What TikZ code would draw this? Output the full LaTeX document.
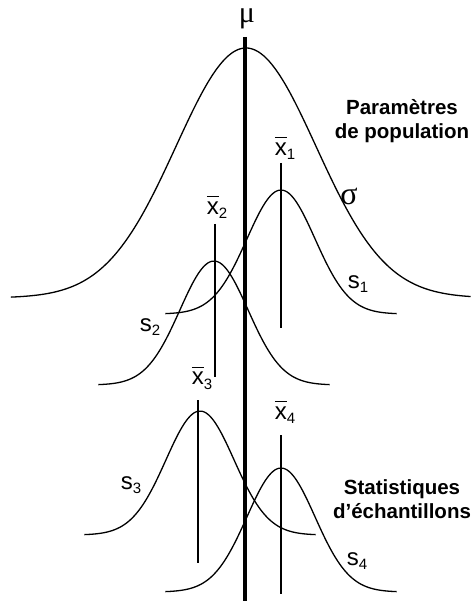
\documentclass[tikz,border=0pt]{standalone}
\usepackage{fontspec}
\setmainfont{Liberation Sans}
\newfontfamily\greekfont{Liberation Serif}
\usepackage{tikz}
\tikzset{bell/.style={line width=1.3pt},
  meanline/.style={line width=1.3pt},
  muline/.style={line width=3.6pt},
  lbl/.style={inner sep=0pt,font=\fontsize{24}{26}\selectfont},
  heading/.style={inner sep=0pt,align=center,font=\fontsize{20.5}{23.5}\selectfont\bfseries}}
\newcommand\meanlbl[1]{$\overline{\mbox{x\vphantom{X}}}$\raisebox{-0.35ex}{\fontsize{15}{15}\selectfont #1}}
\newcommand\sdlbl[1]{s\raisebox{-0.35ex}{\fontsize{15}{15}\selectfont #1}}

\begin{document}
\begin{tikzpicture}[x=1pt,y=-1pt]
  \useasboundingbox (0,0) rectangle (472,601);
  % population
  \draw[bell] plot[domain=-3.36:3.21,samples=90,smooth] ({246+70*\x},{298-250*exp(-\x*\x/2)});
  \draw[muline] (245,37) -- (245,601);
  % samples
  \draw[bell] plot[domain=-3.4:3.4,samples=60,smooth] ({281+34*\x},{314-124*exp(-\x*\x/2)});
  \draw[bell] plot[domain=-3.4:3.4,samples=60,smooth] ({214+34*\x},{385-124*exp(-\x*\x/2)});
  \draw[bell] plot[domain=-3.4:3.4,samples=60,smooth] ({200+34*\x},{535-124*exp(-\x*\x/2)});
  \draw[bell] plot[domain=-3.4:3.4,samples=60,smooth] ({281+34*\x},{592-124*exp(-\x*\x/2)});
  \draw[meanline] (281,163) -- (281,328);
  \draw[meanline] (215,224) -- (215,377);
  \draw[meanline] (198,400) -- (198,563);
  \draw[meanline] (281,435) -- (281,594);
  % labels
  \node[lbl,font=\fontsize{30}{30}\greekfont] (mu) at (247,19) {μ};
  \node[lbl,font=\fontsize{32}{32}\greekfont] (sigma) at (349,196) {σ};
  \node[lbl] (xb1) at (285,148) {\meanlbl{1}};
  \node[lbl] (xb2) at (217,207) {\meanlbl{2}};
  \node[lbl] (xb3) at (202,378) {\meanlbl{3}};
  \node[lbl] (xb4) at (285,412) {\meanlbl{4}};
  \node[lbl] (s1) at (358,284) {\sdlbl{1}};
  \node[lbl] (s2) at (150,327) {\sdlbl{2}};
  \node[lbl] (s3) at (131,485) {\sdlbl{3}};
  \node[lbl] (s4) at (357,561) {\sdlbl{4}};
  \node[heading] (pop) at (402,121) {Paramètres\\de population};
  \node[heading] (ech) at (402,499) {Statistiques\\d’échantillons};
\end{tikzpicture}
\end{document}
